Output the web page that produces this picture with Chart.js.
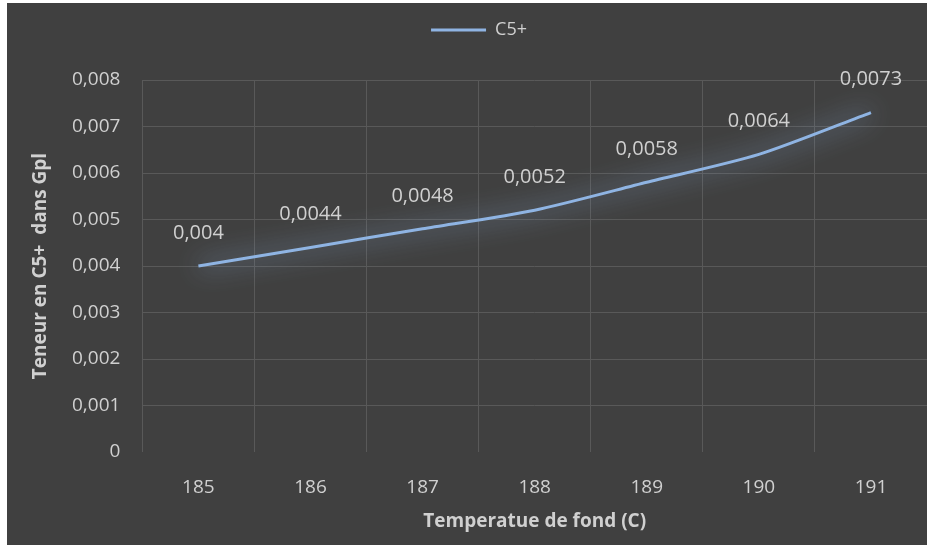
<!DOCTYPE html>
<html lang="fr">
<head>
  <meta charset="UTF-8">
  <title>Teneur en C5+</title>
  <script src="https://cdn.jsdelivr.net/npm/chart.js"></script>
  <style>
    body {
      margin: 0;
      background: #ffffff;
    }
    .chart-box {
      position: absolute;
      left: 7px;
      top: 3px;
      width: 920px;
      height: 542px;
      background: #404040;
    }
  </style>
</head>
<body>
  <div class="chart-box">
    <canvas id="c5Chart"></canvas>
  </div>

  <script>
    // values
    const temperatures = ['185', '186', '187', '188', '189', '190', '191'];
    const teneurC5 = [0.004, 0.0044, 0.0048, 0.0052, 0.0058, 0.0064, 0.0073];
    const seriesName = 'C5+';
    const xTitle = 'Temperatue de fond (C)';
    const yTitle = 'Teneur en C5+  dans Gpl';

    const textColor = '#d0d0d0';
    const gridColor = '#595959';
    const lineColor = '#8fb4e3';
    const fontFam = 'Open Sans';

    const frNum = v => String(+v.toFixed(4)).replace('.', ',');

    // soft glow under the line, like the Excel effect
    const glow = {
      id: 'glow',
      beforeDatasetDraw(chart) {
        const ctx = chart.ctx;
        ctx.save();
        ctx.shadowColor = 'rgba(160, 200, 245, 1)';
        ctx.shadowBlur = 26;
      },
      afterDatasetDraw(chart) {
        chart.ctx.restore();
      }
    };

    // more room under the legend
    const legendGap = {
      id: 'legendGap',
      beforeInit(chart) {
        const fit = chart.legend.fit;
        chart.legend.fit = function () {
          fit.bind(chart.legend)();
          this.height += 31;
        };
      }
    };

    // value labels above each point + x axis title under the plot
    const extraText = {
      id: 'extraText',
      afterDatasetsDraw(chart) {
        const ctx = chart.ctx;
        const meta = chart.getDatasetMeta(0);
        const area = chart.chartArea;
        ctx.save();
        ctx.font = '20px "Open Sans", sans-serif';
        ctx.fillStyle = textColor;
        ctx.textAlign = 'center';
        ctx.textBaseline = 'middle';
        meta.data.forEach((pt, i) => {
          ctx.fillText(frNum(teneurC5[i]), pt.x, pt.y - 33);
        });
        ctx.font = 'bold 19px "Open Sans", sans-serif';
        ctx.fillText(xTitle, (area.left + area.right) / 2, area.bottom + 70);
        ctx.restore();
      }
    };

    new Chart(document.getElementById('c5Chart'), {
      type: 'line',
      data: {
        labels: temperatures,
        datasets: [{
          label: seriesName,
          data: teneurC5,
          borderColor: lineColor,
          backgroundColor: lineColor,
          borderWidth: 3,
          pointRadius: 0,
          tension: 0.25,
          fill: false
        }]
      },
      options: {
        responsive: true,
        maintainAspectRatio: false,
        animation: false,
        layout: {
          padding: { left: 24, right: 0, top: 8, bottom: 22 }
        },
        plugins: {
          legend: {
            position: 'top',
            labels: {
              color: textColor,
              font: { family: fontFam, size: 18 },
              usePointStyle: true,
              pointStyle: 'line',
              pointStyleWidth: 55,
              boxHeight: 3,
              padding: 10
            }
          },
          tooltip: { enabled: false }
        },
        scales: {
          x: {
            offset: true,
            grid: {
              offset: true,
              color: gridColor,
              drawTicks: false
            },
            border: { display: false },
            ticks: {
              color: textColor,
              font: { family: fontFam, size: 19, lineHeight: 1 },
              padding: 26
            }
          },
          y: {
            min: 0,
            max: 0.008,
            grid: {
              color: ctx => ctx.tick && ctx.tick.value === 0 ? 'rgba(0,0,0,0)' : gridColor,
              drawTicks: false
            },
            border: { display: false },
            ticks: {
              stepSize: 0.001,
              color: textColor,
              font: { family: fontFam, size: 19 },
              padding: 22,
              callback: v => frNum(v)
            },
            title: {
              display: true,
              text: yTitle,
              color: textColor,
              font: { family: fontFam, size: 19, weight: 'bold', lineHeight: 1 },
              padding: { top: 0, bottom: 0 }
            }
          }
        }
      },
      plugins: [legendGap, glow, extraText]
    });
  </script>
</body>
</html>
